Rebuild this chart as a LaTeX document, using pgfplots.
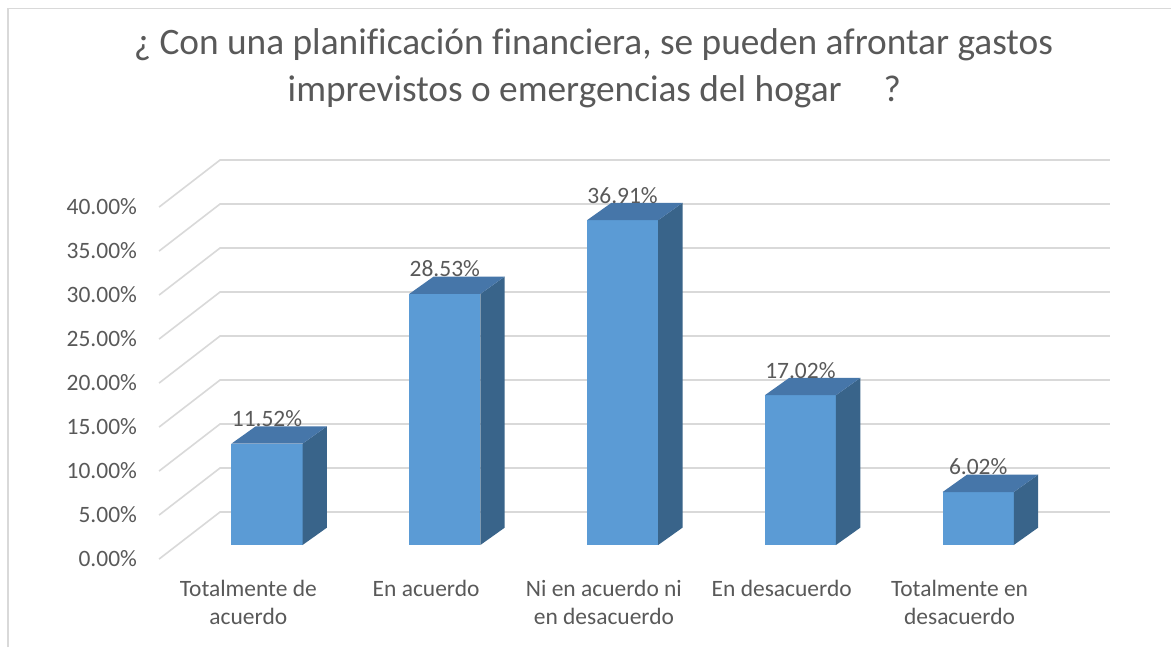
\documentclass[border=0pt]{standalone}
\usepackage{pgfplots}
\pgfplotsset{compat=1.18}
\usepackage{fontspec}
\setmainfont{Carlito}[Ligatures=NoCommon]
\definecolor{txt}{HTML}{595959}
\definecolor{gridc}{HTML}{D9D9D9}
\definecolor{frontc}{HTML}{5B9BD5}
\definecolor{topc}{HTML}{4676A9}
\definecolor{sidec}{HTML}{39648A}
% 3D bar: #1 = category index, #2 = value (percent)
\newcommand\threedbar[2]{%
  \pgfmathsetmacro\xl{#1-0.2}\pgfmathsetmacro\xr{#1+0.2}%
  \pgfmathsetmacro\xlb{#1-0.2+0.137}\pgfmathsetmacro\xrb{#1+0.2+0.137}%
  \pgfmathsetmacro\yt{#2+1.97}%
  \addplot[fill=frontc, draw=none] coordinates {(\xl,0) (\xr,0) (\xr,#2) (\xl,#2)} -- cycle;
  \addplot[fill=sidec, draw=none] coordinates {(\xr,0) (\xrb,1.97) (\xrb,\yt) (\xr,#2)} -- cycle;
  \addplot[fill=topc, draw=none] coordinates {(\xl,#2) (\xr,#2) (\xrb,\yt) (\xlb,\yt)} -- cycle;
}
\begin{document}
\begin{tikzpicture}
\useasboundingbox (0,0) rectangle (878.25pt,485.25pt);
\fill[white] (0,0) rectangle (878.25pt,485.25pt);
\draw[gridc, line width=1.2pt] (5.8pt,0) -- (5.8pt,478.9pt) -- (878.25pt,478.9pt);
\node[text=txt, font=\fontsize{28}{34}\selectfont, anchor=base, inner sep=0pt] at (445.1pt,444pt) {¿ Con una planificación financiera, se pueden afrontar gastos};
\node[text=txt, font=\fontsize{28}{34}\selectfont, anchor=base, inner sep=0pt] at (445.8pt,408.75pt) {imprevistos o emergencias del hogar\hspace{0.9em} ?};
\begin{axis}[
  at={(106.9pt,63.3pt)}, anchor=south west,
  scale only axis, width=733.43pt, height=316.8pt,
  xmin=-0.7, xmax=4.8, ymin=-2, ymax=46,
  axis line style={draw=none}, major tick length=0pt, tick style={draw=none},
  clip=false,
  /pgf/number format/assume math mode=true,
  ytick={-1.6,3.4,8.4,13.4,18.4,23.4,28.4,33.4,38.4},
  yticklabels={0.00\%,5.00\%,10.00\%,15.00\%,20.00\%,25.00\%,30.00\%,35.00\%,40.00\%},
  yticklabel style={text=txt, font=\fontsize{17.6}{21}\selectfont, inner sep=0pt, anchor=east, xshift=-4pt},
  xtick={-0.105,0.895,1.895,2.895,3.895},
  xticklabels={{Totalmente de\\acuerdo},{En acuerdo},{Ni en acuerdo ni\\en desacuerdo},{En desacuerdo},{Totalmente en\\desacuerdo}},
  xticklabel style={text=txt, font=\fontsize{17.6}{21}\selectfont, align=center, inner sep=0pt, anchor=north, yshift=-13pt},
]
\pgfplotsinvokeforeach{0,...,8}{%
  \pgfmathsetmacro\ya{-1.6+5*#1}\pgfmathsetmacro\yb{3.75+5*#1}%
  \addplot[draw=gridc, line width=1.2pt, mark=none] coordinates {(-0.607,\ya) (-0.264,\yb) (4.741,\yb)};
}
\threedbar{0}{11.52}
\threedbar{1}{28.53}
\threedbar{2}{36.91}
\threedbar{3}{17.02}
\threedbar{4}{6.02}
\addplot[draw=none, mark=none, point meta=y,
  nodes near coords={\pgfmathprintnumber[fixed,fixed zerofill,precision=2]{\pgfplotspointmeta}\%},
  every node near coord/.append style={anchor=center, yshift=18.75pt, text=txt, font=\fontsize{17.6}{21}\selectfont, inner sep=0pt}]
  coordinates {(0,11.52) (1,28.53) (2,36.91) (3,17.02) (4,6.02)};
\end{axis}
\end{tikzpicture}
\end{document}
